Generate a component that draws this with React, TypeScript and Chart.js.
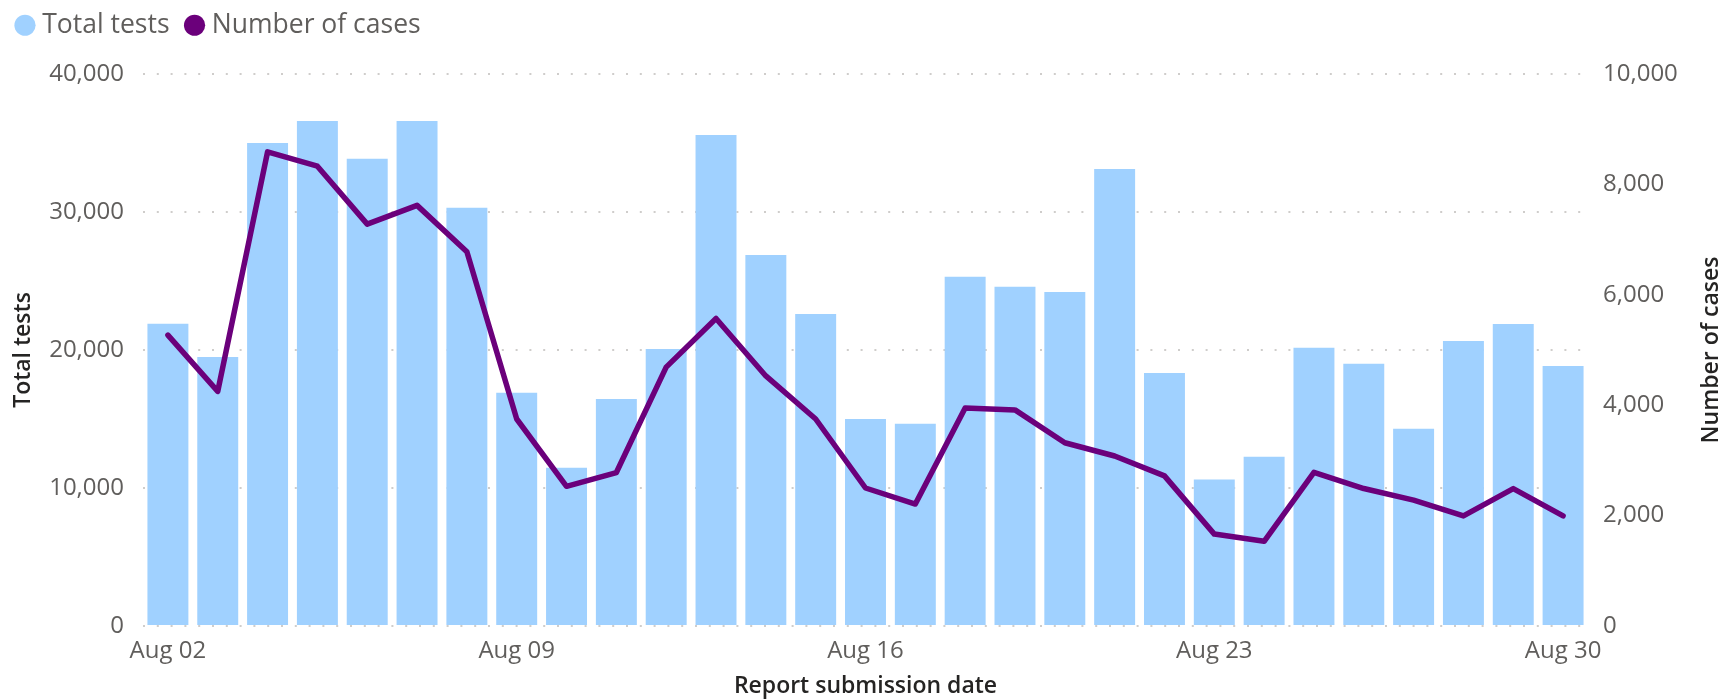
import { useEffect, useRef } from 'react';
import { Chart, registerables } from 'chart.js';

Chart.register(...registerables);

const dates = [
  'Aug 02', 'Aug 03', 'Aug 04', 'Aug 05', 'Aug 06', 'Aug 07', 'Aug 08',
  'Aug 09', 'Aug 10', 'Aug 11', 'Aug 12', 'Aug 13', 'Aug 14', 'Aug 15',
  'Aug 16', 'Aug 17', 'Aug 18', 'Aug 19', 'Aug 20', 'Aug 21', 'Aug 22',
  'Aug 23', 'Aug 24', 'Aug 25', 'Aug 26', 'Aug 27', 'Aug 28', 'Aug 29',
  'Aug 30',
];

const totalTests = [
  21900, 19500, 35000, 36600, 33850, 36600, 30300,
  16900, 11470, 16450, 20080, 35580, 26890, 22610,
  15000, 14660, 25300, 24580, 24210, 33110, 18340,
  10610, 12260, 20160, 19000, 14290, 20660, 21890,
  18840,
];

const numberOfCases = [
  5270, 4250, 8590, 8330, 7280, 7620, 6780,
  3750, 2530, 2780, 4690, 5570, 4530, 3750,
  2500, 2210, 3950, 3915, 3320, 3080, 2720,
  1665, 1535, 2785, 2490, 2280, 1995, 2490,
  1995,
];

const shownDateLabels = ['Aug 02', 'Aug 09', 'Aug 16', 'Aug 23', 'Aug 30'];
const testsTicks = [0, 10000, 20000, 30000, 40000];
const casesTicks = [0, 2000, 4000, 6000, 8000, 10000];

const FONT = "'Segoe UI', 'Open Sans', sans-serif";
const TICK_COLOR = '#605E5C';
const TITLE_COLOR = '#252423';
const BAR_COLOR = '#A0D1FF';
const LINE_COLOR = '#6B007B';
const CASES_TITLE = 'Number of cases';

const legendSpacer = {
  id: 'legendSpacer',
  beforeInit(chart: any) {
    const legend = chart.legend;
    if (!legend) return;
    const orig = legend.fit;
    legend.fit = function () {
      orig.call(this);
      this.height = 83;
    };
  },
};

// Right-axis title reading bottom-to-top, like the left one
const rightTitle = {
  id: 'rightTitle',
  afterDraw(chart: any) {
    const scale = chart.scales.yCases;
    if (!scale) return;
    const ctx = chart.ctx;
    ctx.save();
    ctx.translate(1711, (scale.top + scale.bottom) / 2);
    ctx.rotate(-Math.PI / 2);
    ctx.font = `600 23px ${FONT}`;
    ctx.fillStyle = TITLE_COLOR;
    ctx.textAlign = 'center';
    ctx.textBaseline = 'middle';
    ctx.fillText(CASES_TITLE, 0, 0);
    ctx.restore();
  },
};

export default function App() {
  const canvasRef = useRef<HTMLCanvasElement | null>(null);

  useEffect(() => {
    document.body.style.margin = '0';
    const canvas = canvasRef.current;
    if (!canvas) return;
    const chart = new Chart(canvas, {
      type: 'bar',
      data: {
        labels: dates,
        datasets: [
          {
            type: 'bar',
            label: 'Total tests',
            data: totalTests,
            backgroundColor: BAR_COLOR,
            borderWidth: 0,
            yAxisID: 'yTests',
            categoryPercentage: 1,
            barPercentage: 0.822,
            order: 1,
          },
          {
            type: 'line',
            label: CASES_TITLE,
            data: numberOfCases,
            borderColor: LINE_COLOR,
            backgroundColor: LINE_COLOR,
            borderWidth: 5.5,
            pointRadius: 0,
            pointHoverRadius: 0,
            tension: 0,
            borderJoinStyle: 'round',
            borderCapStyle: 'round',
            yAxisID: 'yCases',
            order: 0,
          },
        ],
      },
      options: {
        responsive: false,
        maintainAspectRatio: false,
        animation: false,
        layout: { padding: { top: -9, left: 0, right: 0, bottom: 0 } },
        plugins: {
          tooltip: { enabled: false },
          legend: {
            display: true,
            position: 'top',
            align: 'start',
            labels: {
              usePointStyle: true,
              pointStyle: 'circle',
              boxWidth: 8,
              boxHeight: 15,
              padding: 21,
              color: TICK_COLOR,
              font: { family: FONT, size: 26.5 },
              sort: (a: any, b: any) => a.datasetIndex - b.datasetIndex,
              generateLabels: (chart: any) =>
                Chart.defaults.plugins.legend.labels
                  .generateLabels(chart)
                  .map((l: any) => ({ ...l, lineWidth: 0, strokeStyle: 'rgba(0,0,0,0)' })),
            },
          },
        },
        scales: {
          x: {
            offset: true,
            grid: { display: false, drawTicks: false },
            border: { display: false },
            ticks: {
              autoSkip: false,
              maxRotation: 0,
              minRotation: 0,
              padding: 11,
              color: TICK_COLOR,
              font: { family: FONT, size: 24 },
              callback: (_v: any, i: number) =>
                shownDateLabels.includes(dates[i]) ? dates[i] : '',
            },
            title: {
              display: true,
              text: 'Report submission date',
              color: TITLE_COLOR,
              font: { family: FONT, size: 23, weight: '600' },
              padding: { top: 0, bottom: 0 },
            },
            afterFit: (scale: any) => {
              scale.height = 74;
            },
          },
          yTests: {
            type: 'linear',
            position: 'left',
            min: testsTicks[0],
            max: testsTicks[testsTicks.length - 1],
            grid: {
              color: '#CFCDCB',
              lineWidth: 2,
              drawTicks: false,
            },
            border: { display: false, dash: [2, 11.8] },
            ticks: {
              stepSize: testsTicks[1] - testsTicks[0],
              padding: 19,
              color: TICK_COLOR,
              font: { family: FONT, size: 24 },
              callback: (v: any) => Number(v).toLocaleString('en-US'),
            },
            title: {
              display: true,
              text: 'Total tests',
              color: TITLE_COLOR,
              font: { family: FONT, size: 23, weight: '600' },
              padding: { top: 10, bottom: 0 },
            },
            afterFit: (scale: any) => {
              scale.width = 143;
            },
          },
          yCases: {
            type: 'linear',
            position: 'right',
            min: casesTicks[0],
            max: casesTicks[casesTicks.length - 1],
            grid: { drawOnChartArea: false, drawTicks: false },
            border: { display: false },
            ticks: {
              stepSize: casesTicks[1] - casesTicks[0],
              padding: 15,
              color: TICK_COLOR,
              font: { family: FONT, size: 24 },
              callback: (v: any) => Number(v).toLocaleString('en-US'),
            },
            title: { display: false },
            afterFit: (scale: any) => {
              scale.width = 145;
            },
          },
        },
      },
      plugins: [legendSpacer, rightTitle],
    });
    return () => chart.destroy();
  }, []);

  return (
    <div style={{ width: 1733, height: 700 }}>
      <canvas ref={canvasRef} width={1733} height={700} style={{ width: 1733, height: 700, display: 'block' }} />
    </div>
  );
}
